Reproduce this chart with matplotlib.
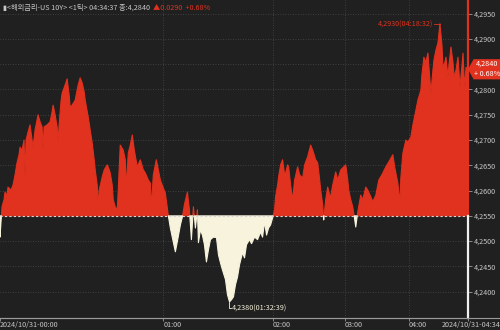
import matplotlib
matplotlib.use('Agg')
import matplotlib.pyplot as plt
import matplotlib.transforms as mtransforms
from matplotlib.patches import Polygon
import numpy as np

plt.rcParams['font.family'] = ['Noto Sans CJK KR', 'DejaVu Sans']

# tick index (1-tick chart, x axis is tick count) and price
tick = [0, 1, 2, 4, 5, 7, 8, 11, 13, 15, 17, 19, 20, 22, 24, 25, 26, 28, 30, 32,
        33, 35, 38, 40, 42, 43, 44, 47, 50, 52, 53, 55, 57, 58, 59, 61, 62, 65, 67, 69,
        70, 72, 75, 77, 78, 80, 82, 84, 85, 88, 90, 92, 94, 95, 97, 98, 99, 102, 104, 107,
        109, 110, 112, 113, 115, 117, 118, 120, 123, 125, 126, 128, 130, 132, 134, 137, 140, 143, 145, 148,
        150, 151, 153, 156, 158, 160, 163, 165, 168, 170, 172, 175, 178, 180, 182, 184, 187, 189, 191, 193,
        195, 197, 198, 200, 202, 204, 206, 208, 210, 213, 216, 218, 220, 222, 225, 227, 229, 231, 233, 235,
        237, 239, 242, 244, 246, 249, 251, 254, 257, 260, 262, 264, 266, 268, 270, 272, 274, 275, 277, 278,
        280, 282, 284, 285, 287, 288, 290, 292, 294, 297, 299, 302, 304, 307, 310, 312, 313, 315, 317, 319,
        320, 322, 323, 325, 327, 329, 330, 332, 335, 337, 340, 342, 345, 347, 348, 350, 352, 354, 355, 357,
        360, 362, 365, 367, 370, 372, 375, 377, 378, 381, 385, 388, 392, 394, 397, 399, 400, 402, 405, 407,
        410, 412, 415, 417, 420, 421, 423, 425, 427, 429, 430, 432, 433, 435, 437, 439, 441, 442, 444, 445,
        447, 448, 450, 452, 453, 455, 457, 459, 461, 462, 463, 464, 465, 467]
price = [4.2508, 4.2538, 4.2568, 4.2582, 4.2597, 4.2591, 4.2607, 4.2601, 4.2611, 4.2631,
         4.2655, 4.2671, 4.2686, 4.2680, 4.2700, 4.2627, 4.2700, 4.2716, 4.2730, 4.2700,
         4.2686, 4.2720, 4.2750, 4.2736, 4.2726, 4.2680, 4.2726, 4.2730, 4.2736, 4.2756,
         4.2769, 4.2750, 4.2726, 4.2696, 4.2730, 4.2779, 4.2793, 4.2809, 4.2821, 4.2789,
         4.2765, 4.2769, 4.2779, 4.2799, 4.2809, 4.2823, 4.2813, 4.2795, 4.2779, 4.2746,
         4.2720, 4.2694, 4.2661, 4.2641, 4.2611, 4.2568, 4.2601, 4.2627, 4.2641, 4.2651,
         4.2641, 4.2635, 4.2611, 4.2582, 4.2568, 4.2562, 4.2601, 4.2690, 4.2680, 4.2661,
         4.2607, 4.2674, 4.2690, 4.2710, 4.2680, 4.2647, 4.2661, 4.2641, 4.2635, 4.2621,
         4.2615, 4.2568, 4.2631, 4.2661, 4.2641, 4.2621, 4.2605, 4.2595, 4.2550, 4.2526,
         4.2507, 4.2479, 4.2510, 4.2532, 4.2548, 4.2572, 4.2597, 4.2562, 4.2503, 4.2568,
         4.2526, 4.2562, 4.2497, 4.2522, 4.2512, 4.2493, 4.2459, 4.2483, 4.2503, 4.2508,
         4.2507, 4.2473, 4.2457, 4.2443, 4.2424, 4.2394, 4.2380, 4.2384, 4.2390, 4.2414,
         4.2429, 4.2453, 4.2477, 4.2467, 4.2493, 4.2503, 4.2495, 4.2508, 4.2503, 4.2518,
         4.2508, 4.2538, 4.2512, 4.2526, 4.2532, 4.2546, 4.2562, 4.2588, 4.2611, 4.2627,
         4.2651, 4.2661, 4.2631, 4.2635, 4.2651, 4.2647, 4.2611, 4.2582, 4.2621, 4.2647,
         4.2631, 4.2625, 4.2651, 4.2667, 4.2690, 4.2680, 4.2674, 4.2661, 4.2655, 4.2621,
         4.2601, 4.2572, 4.2542, 4.2582, 4.2607, 4.2591, 4.2588, 4.2611, 4.2637, 4.2621,
         4.2641, 4.2645, 4.2651, 4.2621, 4.2601, 4.2582, 4.2568, 4.2542, 4.2528, 4.2558,
         4.2591, 4.2582, 4.2607, 4.2601, 4.2588, 4.2578, 4.2591, 4.2611, 4.2621, 4.2631,
         4.2647, 4.2657, 4.2671, 4.2645, 4.2615, 4.2576, 4.2625, 4.2674, 4.2700, 4.2696,
         4.2706, 4.2730, 4.2759, 4.2779, 4.2799, 4.2829, 4.2864, 4.2854, 4.2872, 4.2819,
         4.2793, 4.2838, 4.2858, 4.2878, 4.2892, 4.2930, 4.2888, 4.2844, 4.2854, 4.2864,
         4.2825, 4.2848, 4.2884, 4.2854, 4.2825, 4.2838, 4.2864, 4.2805, 4.2848, 4.2872,
         4.2829, 4.2805, 4.2844, 4.2840]

base_price = 4.2550
last_price = 4.2840
y_levels = [4.2400, 4.2450, 4.2500, 4.2550, 4.2600, 4.2650, 4.2700, 4.2750, 4.2800, 4.2900, 4.2950]
time_ticks = [0, 163, 272, 344, 408, 467]
time_labels = ['2024/10/31-00:00', '01:00', '02:00', '03:00', '04:00', '2024/10/31-04:34']

BG = '#202020'
RED = '#e0321e'
CREAM = '#f7f3dc'
TXT = '#c8c8c8'
FS = 5.2

fig = plt.figure(figsize=(5, 3.3), dpi=100, facecolor=BG)
ax = fig.add_axes([0, 12 / 330, 468 / 500, 318 / 330])
ax.set_facecolor(BG)

x = np.array(tick)
p = np.array(price)
ax.fill_between(x, p, base_price, where=p >= base_price, interpolate=True,
                color=RED, linewidth=0.8, edgecolor=RED)
ax.fill_between(x, p, base_price, where=p <= base_price, interpolate=True,
                color=CREAM, linewidth=0.8, edgecolor=CREAM)

ax.set_xlim(0, 467)
ax.set_ylim(4.2348, 4.2977)

# grid
for v in y_levels + [4.2850]:
    if v != base_price:
        ax.axhline(v, color='#4a4a4a', lw=0.6, ls=(0, (1, 2)), zorder=0)
for t in time_ticks[1:-1]:
    ax.axvline(t, color='#4a4a4a', lw=0.6, ls=(0, (1, 2)), zorder=0)
ax.axhline(base_price, color='#d8d8d8', lw=0.8, ls=(0, (2, 2)), zorder=3)

# current price marker line at right edge
ax.plot([467, 467], [base_price, 4.2977], color=RED, lw=1.6, zorder=4, clip_on=False)
ax.plot([467, 467], [4.2348, base_price], color='#f0f0f0', lw=1.6, zorder=4, clip_on=False)

for s in ['top', 'left', 'right']:
    ax.spines[s].set_visible(False)
ax.spines['bottom'].set_color('#9a9a9a')
ax.spines['bottom'].set_linewidth(0.8)

ax.yaxis.tick_right()
ax.set_yticks(y_levels)
ax.set_yticklabels([f'{v:.4f}'.replace('.', ',') for v in y_levels])
ax.tick_params(axis='y', colors='#9a9a9a', labelcolor=TXT, length=3, width=0.6,
               pad=1, labelsize=FS)
ax.set_xticks(time_ticks)
ax.set_xticklabels(time_labels)
ax.tick_params(axis='x', colors='#9a9a9a', labelcolor=TXT, length=2.5, width=0.6,
               pad=-0.5, labelsize=FS)
xl = ax.get_xticklabels()
for lab in xl[:-1]:
    lab.set_ha('left')
xl[-1].set_ha('right')
last_lab = ax.xaxis.get_major_ticks()[-1].label1
last_lab.set_transform(last_lab.get_transform() +
                       mtransforms.ScaledTranslation(33 / 100, 0, fig.dpi_scale_trans))

# bottom line across full width
fig.add_artist(plt.Line2D([0, 1], [12 / 330, 12 / 330], color='#9a9a9a', lw=0.8))

# price tag on the right axis
trans = mtransforms.blended_transform_factory(ax.transAxes, ax.transData)
tag = Polygon([[1.0, last_price], [1.012, 4.2860], [1.07, 4.2860],
               [1.07, 4.2820], [1.012, 4.2820]], closed=True,
              transform=trans, facecolor=RED, edgecolor='none', clip_on=False, zorder=5)
ax.add_patch(tag)
ax.text(1.04, 4.2851, f'{last_price:.4f}'.replace('.', ','), transform=trans,
        ha='center', va='center', color='white', fontsize=FS, clip_on=False, zorder=6)
ax.text(1.04, 4.2830, '+ 0.68%', transform=trans,
        ha='center', va='center', color='white', fontsize=FS, clip_on=False, zorder=6)

# high / low annotations
i_hi = int(np.argmax(p))
i_lo = int(np.argmin(p))
ax.plot([x[i_hi] - 6, x[i_hi]], [p[i_hi] - 0.0001, p[i_hi] - 0.0001], color=RED, lw=0.6)
ax.text(x[i_hi] - 7, p[i_hi] - 0.0001, f'{p[i_hi]:.4f}'.replace('.', ',') + '(04:18:32)',
        ha='right', va='center', color=RED, fontsize=FS)
ax.plot([x[i_lo], x[i_lo], x[i_lo] + 2], [p[i_lo], p[i_lo] - 0.0013, p[i_lo] - 0.0013],
        color=CREAM, lw=0.6)
ax.text(x[i_lo] + 2.5, p[i_lo] - 0.0013, f'{p[i_lo]:.4f}'.replace('.', ',') + '(01:32:39)',
        ha='left', va='center', color=CREAM, fontsize=FS)

# header
h1 = fig.text(0.006, 0.988, '▮<해외금리-US 10Y> <1틱> 04:34:37 종:4,2840', color=TXT,
              fontsize=FS, va='top', ha='left')
fig.canvas.draw()
bb = h1.get_window_extent(fig.canvas.get_renderer())
x_red = (bb.x1 + 3) / fig.bbox.width
fig.text(x_red, 0.988, '▲0.0290  +0.68%', color=RED, fontsize=FS, va='top', ha='left')

fig.savefig('out.png', dpi=100, facecolor=BG)
